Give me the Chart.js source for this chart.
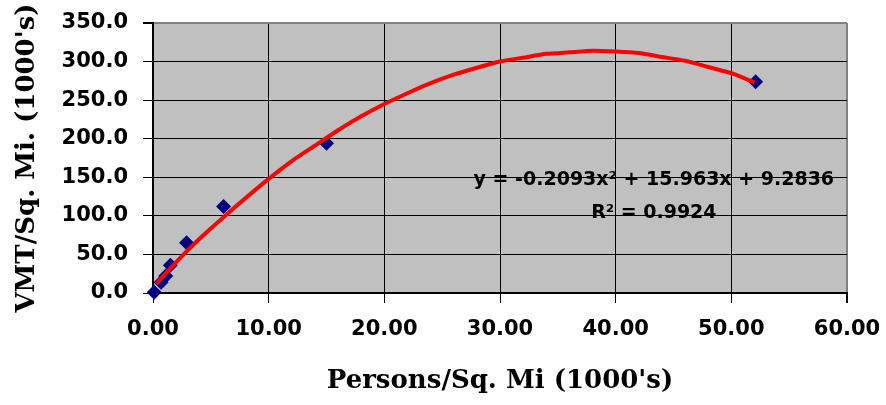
<!DOCTYPE html>
<html>
<head>
<meta charset="utf-8">
<title>VMT vs Density</title>
<script src="https://cdn.jsdelivr.net/npm/chart.js"></script>
<style>
  body { margin: 0; background: #fff; }
  #wrap { width: 886px; height: 405px; }
</style>
</head>
<body>
<div id="wrap"><canvas id="vmtChart" width="886" height="405"></canvas></div>
<script>
// observed points (persons/sq mi vs VMT/sq mi, thousands)
const densityX = [0.1, 0.7, 1.1, 1.5, 2.9, 6.1, 15.0, 52.1];
const vmtY = [1, 14, 22, 36, 65, 112, 194, 274];

// trendline
const trendX = [0.3, 2, 4, 6, 8, 10, 12, 14, 16, 18, 20, 22, 24, 26, 28, 30, 32, 34, 36, 38, 40, 42, 44, 46, 48, 50, 52];
const trendY = [12, 40, 70, 97, 123, 148, 171, 191, 211, 229, 245, 259, 272, 283, 292, 300, 305, 310, 312, 314, 313, 311, 306, 301, 293, 285, 273];

const yTicks = [0, 50, 100, 150, 200, 250, 300, 350];
const xTicks = [0, 10, 20, 30, 40, 50, 60];

const equationText = "y = -0.2093x² + 15.963x + 9.2836";
const rSquaredText = "R² = 0.9924";

const plotBackground = {
  id: 'plotBackground',
  beforeDraw(chart) {
    const { ctx, chartArea: a } = chart;
    ctx.save();
    ctx.fillStyle = '#c0c0c0';
    ctx.fillRect(a.left, a.top, a.right - a.left, a.bottom - a.top);
    ctx.restore();
  }
};

const equationLabel = {
  id: 'equationLabel',
  afterDraw(chart) {
    const { ctx, scales } = chart;
    const cx = scales.x.getPixelForValue(43.3);
    ctx.save();
    ctx.fillStyle = '#000';
    ctx.font = 'bold 19px "DejaVu Sans"';
    ctx.textAlign = 'center';
    ctx.textBaseline = 'middle';
    ctx.fillText(equationText, cx, scales.y.getPixelForValue(146));
    ctx.fillText(rSquaredText, cx, scales.y.getPixelForValue(103.5));
    ctx.restore();
  }
};

const tickFont = { family: 'DejaVu Sans', weight: 'bold', size: 21 };
const titleFont = { family: 'DejaVu Serif', weight: 'bold', size: 26 };

new Chart(document.getElementById('vmtChart'), {
  type: 'scatter',
  data: {
    datasets: [
      {
        label: 'Trend',
        data: trendX.map((x, i) => ({ x: x, y: trendY[i] })),
        showLine: true,
        borderColor: '#ff0000',
        borderWidth: 4,
        pointRadius: 0,
        tension: 0.2
      },
      {
        label: 'VMT',
        data: densityX.map((x, i) => ({ x: x, y: vmtY[i] })),
        pointStyle: 'rectRot',
        pointRadius: 7.5,
        backgroundColor: '#000080',
        borderColor: '#000080',
        borderWidth: 0,
        clip: false
      }
    ]
  },
  options: {
    responsive: false,
    animation: false,
    layout: { padding: { left: 0, right: 39, top: 23, bottom: 0 } },
    plugins: { legend: { display: false }, tooltip: { enabled: false } },
    scales: {
      x: {
        type: 'linear',
        min: 0,
        max: 60,
        // fixed axis box so the plot area lands where the original has it
        afterFit(scale) { scale.height = 112; scale.paddingLeft = 0; scale.paddingRight = 0; },
        afterBuildTicks(scale) { scale.ticks = xTicks.map(v => ({ value: v })); },
        ticks: {
          font: tickFont,
          color: '#000',
          padding: 14,
          maxRotation: 0,
          callback: v => v.toFixed(2)
        },
        grid: {
          color: ctx => (ctx.tick && ctx.tick.value === 60 ? '#808080' : '#000'),
          lineWidth: ctx => (ctx.tick && ctx.tick.value === 60 ? 2 : 1),
          tickColor: '#000',
          tickLength: 10
        },
        border: { color: '#000', width: 2 },
        title: {
          display: true,
          text: "Persons/Sq. Mi (1000's)",
          font: titleFont,
          color: '#000',
          padding: 8
        }
      },
      y: {
        type: 'linear',
        min: 0,
        max: 350,
        afterFit(scale) { scale.width = 153; scale.paddingTop = 0; scale.paddingBottom = 0; },
        afterBuildTicks(scale) { scale.ticks = yTicks.map(v => ({ value: v })); },
        ticks: {
          font: tickFont,
          color: '#000',
          padding: 15,
          callback: v => v.toFixed(1)
        },
        grid: {
          color: ctx => (ctx.tick && ctx.tick.value === 350 ? '#808080' : '#000'),
          lineWidth: ctx => (ctx.tick && ctx.tick.value === 350 ? 2 : 1),
          tickColor: '#000',
          tickLength: 10
        },
        border: { color: '#000', width: 2 },
        title: {
          display: true,
          text: "VMT/Sq. Mi. (1000's)",
          font: titleFont,
          color: '#000',
          padding: 12
        }
      }
    }
  },
  plugins: [plotBackground, equationLabel]
});
</script>
</body>
</html>
